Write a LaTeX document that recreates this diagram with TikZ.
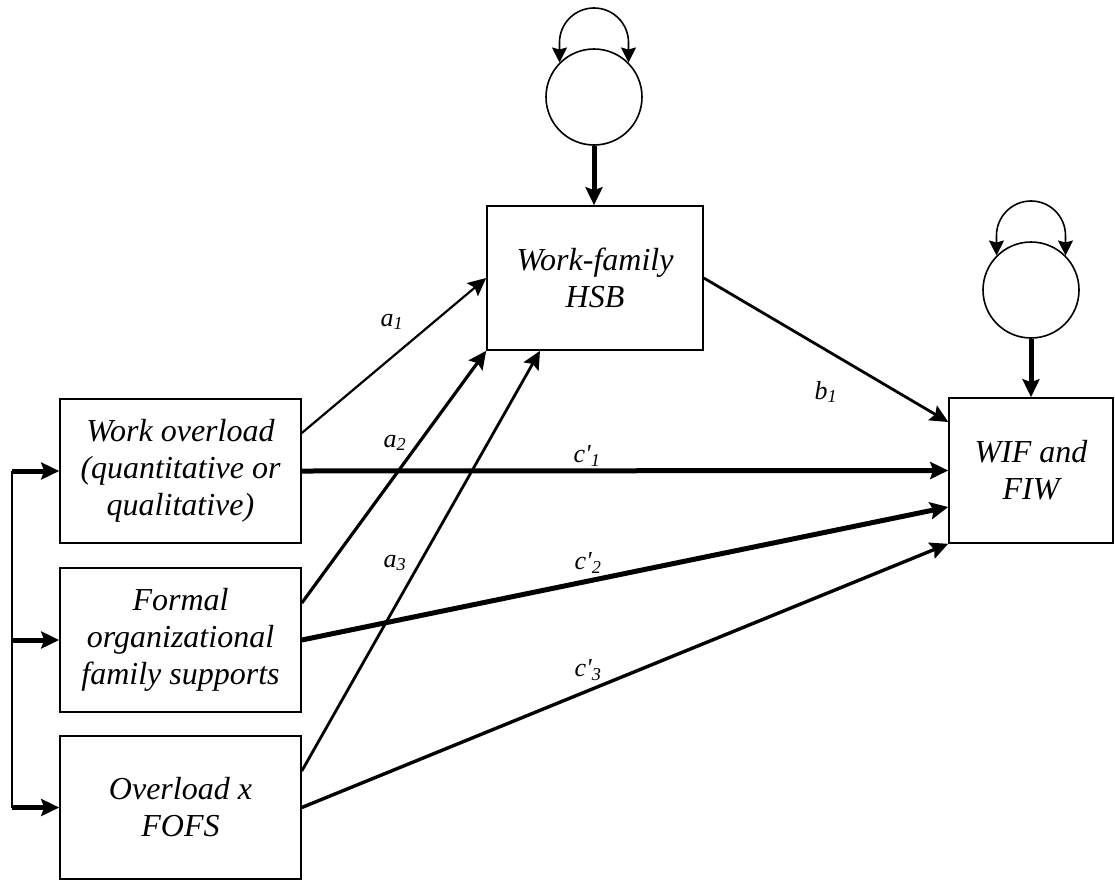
\documentclass[tikz,border=0pt]{standalone}
\usepackage{fontspec}
\setmainfont{Liberation Serif}
\usetikzlibrary{arrows.meta}

\begin{document}
\begin{tikzpicture}[x=1pt,y=-1pt,
  varbox/.style={draw, line width=1.6pt, inner sep=0pt, align=center,
    font=\fontsize{32}{37}\selectfont\itshape},
  errcirc/.style={draw, circle, line width=1.6pt, minimum size=96pt, inner sep=0pt},
  path lbl/.style={inner sep=0pt, font=\fontsize{26}{30}\selectfont\itshape},
  tip/.style={-{Stealth[length=18pt,width=17pt,inset=3pt]}},
  both tips/.style={{Stealth[length=15pt,width=15pt,inset=2pt]}-{Stealth[length=15pt,width=15pt,inset=2pt]}},
]
\useasboundingbox (0,0) rectangle (1115,881);

% predictors
\node[varbox, minimum width=241pt, minimum height=144pt] (box1) at (180.5,471)
  {Work overload\\(quantitative or\\qualitative)};
\node[varbox, minimum width=241pt, minimum height=144pt] (box2) at (180.5,640)
  {Formal\\organizational\\family supports};
\node[varbox, minimum width=241pt, minimum height=143pt] (box3) at (180.5,807.5)
  {Overload x\\FOFS};

% mediator and outcome
\node[varbox, minimum width=216pt, minimum height=144pt] (hsb) at (595,278)
  {Work-family\\HSB};
\node[varbox, minimum width=164pt, minimum height=145pt] (wif) at (1031,470.5)
  {WIF and\\FIW};

% disturbance terms
\node[errcirc] (e1) at (594,97) {};
\node[errcirc] (e2) at (1031,290) {};

% variances of the disturbances
\draw[both tips, line width=1.6pt] (e1.135) -- ++(0,-20)
  arc[start angle=180, end angle=0, radius=34.5pt] -- (e1.45);
\draw[both tips, line width=1.6pt] (e2.135) -- ++(0,-20)
  arc[start angle=180, end angle=0, radius=34.5pt] -- (e2.45);
\draw[tip, line width=5pt] (e1.south) -- (e1.south |- hsb.north);
\draw[tip, line width=5pt] (e2.south) -- (e2.south |- wif.north);

% correlations among the predictors
\coordinate (spine) at (12,0);
\draw[line width=2.2pt] (spine |- box1.west) -- (spine |- box3.west);
\draw[tip, line width=5pt] (spine |- box1.west) -- (box1.west);
\draw[tip, line width=5pt] (spine |- box2.west) -- (box2.west);
\draw[tip, line width=5pt] (spine |- box3.west) -- (box3.west);

% a paths
\draw[tip, line width=2.2pt] ([yshift=38pt]box1.east) -- (hsb.west);
\draw[tip, line width=3.2pt] ([yshift=37pt]box2.east) -- (hsb.south west);
\draw[tip, line width=2.8pt] ([yshift=36.5pt]box3.east) -- ([xshift=-55pt]hsb.south);

% b path
\draw[tip, line width=2.8pt] (hsb.east) -- ([yshift=48.5pt]wif.west);

% direct paths
\draw[tip, line width=5pt] (box1.east) -- (wif.west);
\draw[tip, line width=5pt] (box2.east) -- ([yshift=-36.5pt]wif.west);
\draw[tip, line width=3.4pt] (box3.east) -- (wif.south west);

% path labels
\node[path lbl] (la1) at (392,322) {a\textsubscript{1}};
\node[path lbl] (la2) at (395,443) {a\textsubscript{2}};
\node[path lbl] (la3) at (395,563) {a\textsubscript{3}};
\node[path lbl] (lb1) at (826,392) {b\textsubscript{1}};
\node[path lbl] (lc1) at (587,456) {c\textquotesingle\textsubscript{1}};
\node[path lbl] (lc2) at (588,563) {c\textquotesingle\textsubscript{2}};
\node[path lbl] (lc3) at (588,670) {c\textquotesingle\textsubscript{3}};
\end{tikzpicture}
\end{document}
